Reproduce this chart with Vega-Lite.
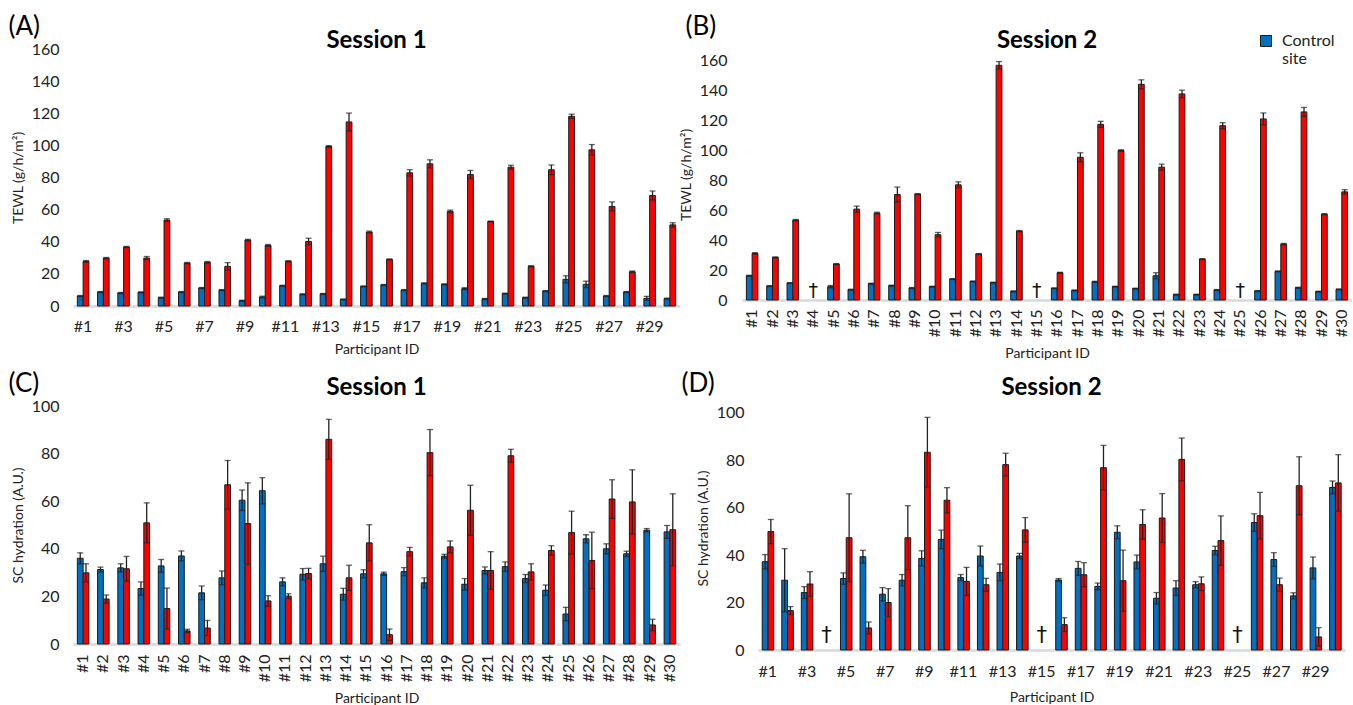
{
  "$schema": "https://vega.github.io/schema/vega-lite/v6.json",
  "padding": {"left": 8, "top": 13, "right": 0, "bottom": 0},
  "config": {
    "font": "Lato",
    "view": {"stroke": null},
    "axis": {"labelFont": "Lato", "titleFont": "Lato", "labelFontSize": 16, "titleFontSize": 14, "titleFontWeight": "normal", "labelColor": "#222", "titleColor": "#222", "ticks": false, "grid": false},
    "axisX": {"domainColor": "#d9d9d9", "domainWidth": 2.5},
    "axisY": {"domain": false, "labelPadding": 14, "titlePadding": 6, "labelOverlap": false},
    "title": {"font": "Lato", "fontSize": 24, "fontWeight": "bold", "color": "#000"}
  },
  "datasets": {
    "A": [
      {"id": "#1", "site": "Control site", "v": 6.2, "e": 0.3}, {"id": "#1", "site": "Test site", "v": 27.8, "e": 0.5},
      {"id": "#2", "site": "Control site", "v": 8.7, "e": 0.3}, {"id": "#2", "site": "Test site", "v": 29.8, "e": 0.4},
      {"id": "#3", "site": "Control site", "v": 8.1, "e": 0.3}, {"id": "#3", "site": "Test site", "v": 36.7, "e": 0.4},
      {"id": "#4", "site": "Control site", "v": 8.5, "e": 0.3}, {"id": "#4", "site": "Test site", "v": 29.8, "e": 1},
      {"id": "#5", "site": "Control site", "v": 5.2, "e": 0.3}, {"id": "#5", "site": "Test site", "v": 53.5, "e": 0.8},
      {"id": "#6", "site": "Control site", "v": 8.7, "e": 0.3}, {"id": "#6", "site": "Test site", "v": 26.7, "e": 0.4},
      {"id": "#7", "site": "Control site", "v": 11.2, "e": 0.3}, {"id": "#7", "site": "Test site", "v": 27.2, "e": 0.5},
      {"id": "#8", "site": "Control site", "v": 9.9, "e": 0.3}, {"id": "#8", "site": "Test site", "v": 24.7, "e": 2.3},
      {"id": "#9", "site": "Control site", "v": 3.3, "e": 0.3}, {"id": "#9", "site": "Test site", "v": 41, "e": 0.5},
      {"id": "#10", "site": "Control site", "v": 5.6, "e": 0.5}, {"id": "#10", "site": "Test site", "v": 37.7, "e": 0.6},
      {"id": "#11", "site": "Control site", "v": 12.6, "e": 0.3}, {"id": "#11", "site": "Test site", "v": 27.8, "e": 0.4},
      {"id": "#12", "site": "Control site", "v": 7.3, "e": 0.3}, {"id": "#12", "site": "Test site", "v": 40.2, "e": 2},
      {"id": "#13", "site": "Control site", "v": 7.5, "e": 0.3}, {"id": "#13", "site": "Test site", "v": 99.3, "e": 0.6},
      {"id": "#14", "site": "Control site", "v": 4.1, "e": 0.3}, {"id": "#14", "site": "Test site", "v": 114.6, "e": 5.5},
      {"id": "#15", "site": "Control site", "v": 12.2, "e": 0.3}, {"id": "#15", "site": "Test site", "v": 46, "e": 0.6},
      {"id": "#16", "site": "Control site", "v": 13.1, "e": 0.3}, {"id": "#16", "site": "Test site", "v": 29, "e": 0.3},
      {"id": "#17", "site": "Control site", "v": 9.9, "e": 0.3}, {"id": "#17", "site": "Test site", "v": 82.9, "e": 2},
      {"id": "#18", "site": "Control site", "v": 14.1, "e": 0.3}, {"id": "#18", "site": "Test site", "v": 88.5, "e": 2.5},
      {"id": "#19", "site": "Control site", "v": 13.5, "e": 0.3}, {"id": "#19", "site": "Test site", "v": 58.9, "e": 0.8},
      {"id": "#20", "site": "Control site", "v": 10.8, "e": 0.6}, {"id": "#20", "site": "Test site", "v": 81.9, "e": 2.5},
      {"id": "#21", "site": "Control site", "v": 4.4, "e": 0.3}, {"id": "#21", "site": "Test site", "v": 52.6, "e": 0.3},
      {"id": "#22", "site": "Control site", "v": 7.7, "e": 0.3}, {"id": "#22", "site": "Test site", "v": 86.4, "e": 1.2},
      {"id": "#23", "site": "Control site", "v": 5.2, "e": 0.3}, {"id": "#23", "site": "Test site", "v": 24.7, "e": 0.4},
      {"id": "#24", "site": "Control site", "v": 9.3, "e": 0.3}, {"id": "#24", "site": "Test site", "v": 84.8, "e": 3},
      {"id": "#25", "site": "Control site", "v": 16.6, "e": 2.2}, {"id": "#25", "site": "Test site", "v": 118.1, "e": 1.3},
      {"id": "#26", "site": "Control site", "v": 13.5, "e": 2}, {"id": "#26", "site": "Test site", "v": 97.2, "e": 3.3},
      {"id": "#27", "site": "Control site", "v": 6.2, "e": 0.3}, {"id": "#27", "site": "Test site", "v": 62, "e": 2.8},
      {"id": "#28", "site": "Control site", "v": 8.7, "e": 0.3}, {"id": "#28", "site": "Test site", "v": 21.3, "e": 0.5},
      {"id": "#29", "site": "Control site", "v": 4.8, "e": 1.2}, {"id": "#29", "site": "Test site", "v": 68.8, "e": 2.8},
      {"id": "#30", "site": "Control site", "v": 4.6, "e": 0.3}, {"id": "#30", "site": "Test site", "v": 50.5, "e": 1.3}
    ],
    "B": [
      {"id": "#1", "site": "Control site", "v": 16.2, "e": 0.3}, {"id": "#1", "site": "Test site", "v": 31.1, "e": 0.5},
      {"id": "#2", "site": "Control site", "v": 9.3, "e": 0.3}, {"id": "#2", "site": "Test site", "v": 28.4, "e": 0.4},
      {"id": "#3", "site": "Control site", "v": 11.3, "e": 0.3}, {"id": "#3", "site": "Test site", "v": 53.3, "e": 0.5},
      {"id": "#5", "site": "Control site", "v": 8.9, "e": 0.8}, {"id": "#5", "site": "Test site", "v": 24, "e": 0.3},
      {"id": "#6", "site": "Control site", "v": 6.9, "e": 0.3}, {"id": "#6", "site": "Test site", "v": 60.7, "e": 2},
      {"id": "#7", "site": "Control site", "v": 10.9, "e": 0.3}, {"id": "#7", "site": "Test site", "v": 58, "e": 0.6},
      {"id": "#8", "site": "Control site", "v": 9.6, "e": 0.3}, {"id": "#8", "site": "Test site", "v": 70.4, "e": 5},
      {"id": "#9", "site": "Control site", "v": 8, "e": 0.3}, {"id": "#9", "site": "Test site", "v": 70.7, "e": 0.3},
      {"id": "#10", "site": "Control site", "v": 8.9, "e": 0.3}, {"id": "#10", "site": "Test site", "v": 43.6, "e": 1.5},
      {"id": "#11", "site": "Control site", "v": 14, "e": 0.3}, {"id": "#11", "site": "Test site", "v": 76.9, "e": 2},
      {"id": "#12", "site": "Control site", "v": 12.4, "e": 0.3}, {"id": "#12", "site": "Test site", "v": 30.7, "e": 0.3},
      {"id": "#13", "site": "Control site", "v": 11.6, "e": 0.3}, {"id": "#13", "site": "Test site", "v": 156.7, "e": 2.5},
      {"id": "#14", "site": "Control site", "v": 5.8, "e": 0.3}, {"id": "#14", "site": "Test site", "v": 46, "e": 0.4},
      {"id": "#16", "site": "Control site", "v": 7.8, "e": 0.3}, {"id": "#16", "site": "Test site", "v": 18.2, "e": 0.3},
      {"id": "#17", "site": "Control site", "v": 6.4, "e": 0.3}, {"id": "#17", "site": "Test site", "v": 95.3, "e": 3},
      {"id": "#18", "site": "Control site", "v": 12.2, "e": 0.3}, {"id": "#18", "site": "Test site", "v": 117.3, "e": 2},
      {"id": "#19", "site": "Control site", "v": 8.9, "e": 0.3}, {"id": "#19", "site": "Test site", "v": 99.8, "e": 0.5},
      {"id": "#20", "site": "Control site", "v": 7.6, "e": 0.3}, {"id": "#20", "site": "Test site", "v": 144, "e": 3},
      {"id": "#21", "site": "Control site", "v": 16.2, "e": 2}, {"id": "#21", "site": "Test site", "v": 88.7, "e": 2},
      {"id": "#22", "site": "Control site", "v": 3.6, "e": 0.3}, {"id": "#22", "site": "Test site", "v": 137.6, "e": 2.5},
      {"id": "#23", "site": "Control site", "v": 3.6, "e": 0.3}, {"id": "#23", "site": "Test site", "v": 27.3, "e": 0.3},
      {"id": "#24", "site": "Control site", "v": 6.7, "e": 0.3}, {"id": "#24", "site": "Test site", "v": 116.4, "e": 2},
      {"id": "#26", "site": "Control site", "v": 6, "e": 0.3}, {"id": "#26", "site": "Test site", "v": 120.9, "e": 4},
      {"id": "#27", "site": "Control site", "v": 19.1, "e": 0.3}, {"id": "#27", "site": "Test site", "v": 37.3, "e": 0.5},
      {"id": "#28", "site": "Control site", "v": 8.2, "e": 0.3}, {"id": "#28", "site": "Test site", "v": 125.6, "e": 3},
      {"id": "#29", "site": "Control site", "v": 5.6, "e": 0.3}, {"id": "#29", "site": "Test site", "v": 57.3, "e": 0.3},
      {"id": "#30", "site": "Control site", "v": 7.1, "e": 0.3}, {"id": "#30", "site": "Test site", "v": 72.2, "e": 1.5}
    ],
    "C": [
      {"id": "#1", "site": "Control site", "v": 36.0, "e": 2.3}, {"id": "#1", "site": "Test site", "v": 29.9, "e": 3.8},
      {"id": "#2", "site": "Control site", "v": 31.3, "e": 1}, {"id": "#2", "site": "Test site", "v": 18.9, "e": 1.7},
      {"id": "#3", "site": "Control site", "v": 32, "e": 1.7}, {"id": "#3", "site": "Test site", "v": 31.6, "e": 5.2},
      {"id": "#4", "site": "Control site", "v": 23.3, "e": 2.8}, {"id": "#4", "site": "Test site", "v": 50.9, "e": 8.4},
      {"id": "#5", "site": "Control site", "v": 32.8, "e": 2.7}, {"id": "#5", "site": "Test site", "v": 14.9, "e": 8.6},
      {"id": "#6", "site": "Control site", "v": 37, "e": 2.1}, {"id": "#6", "site": "Test site", "v": 5.5, "e": 0.7},
      {"id": "#7", "site": "Control site", "v": 21.5, "e": 2.9}, {"id": "#7", "site": "Test site", "v": 6.7, "e": 3.2},
      {"id": "#8", "site": "Control site", "v": 27.8, "e": 2.9}, {"id": "#8", "site": "Test site", "v": 66.9, "e": 10.2},
      {"id": "#9", "site": "Control site", "v": 60.4, "e": 4.3}, {"id": "#9", "site": "Test site", "v": 50.6, "e": 17.1},
      {"id": "#10", "site": "Control site", "v": 64.4, "e": 5.5}, {"id": "#10", "site": "Test site", "v": 18.1, "e": 2.2},
      {"id": "#11", "site": "Control site", "v": 26.1, "e": 1.7}, {"id": "#11", "site": "Test site", "v": 20.1, "e": 1},
      {"id": "#12", "site": "Control site", "v": 29.3, "e": 2.4}, {"id": "#12", "site": "Test site", "v": 29.6, "e": 2.2},
      {"id": "#13", "site": "Control site", "v": 33.7, "e": 3.2}, {"id": "#13", "site": "Test site", "v": 86, "e": 8.4},
      {"id": "#14", "site": "Control site", "v": 20.9, "e": 2.5}, {"id": "#14", "site": "Test site", "v": 27.8, "e": 5.3},
      {"id": "#15", "site": "Control site", "v": 29.5, "e": 1.7}, {"id": "#15", "site": "Test site", "v": 42.5, "e": 7.6},
      {"id": "#16", "site": "Control site", "v": 29.5, "e": 0.7}, {"id": "#16", "site": "Test site", "v": 3.9, "e": 2.4},
      {"id": "#17", "site": "Control site", "v": 30.4, "e": 1.7}, {"id": "#17", "site": "Test site", "v": 38.8, "e": 1.8},
      {"id": "#18", "site": "Control site", "v": 25.7, "e": 2.1}, {"id": "#18", "site": "Test site", "v": 80.4, "e": 9.7},
      {"id": "#19", "site": "Control site", "v": 36.9, "e": 0.8}, {"id": "#19", "site": "Test site", "v": 40.8, "e": 2.5},
      {"id": "#20", "site": "Control site", "v": 25.1, "e": 2.4}, {"id": "#20", "site": "Test site", "v": 56.2, "e": 10.5},
      {"id": "#21", "site": "Control site", "v": 30.9, "e": 1.5}, {"id": "#21", "site": "Test site", "v": 30.9, "e": 7.9},
      {"id": "#22", "site": "Control site", "v": 32.5, "e": 2}, {"id": "#22", "site": "Test site", "v": 79.1, "e": 2.7},
      {"id": "#23", "site": "Control site", "v": 27.5, "e": 1.7}, {"id": "#23", "site": "Test site", "v": 30.3, "e": 3.4},
      {"id": "#24", "site": "Control site", "v": 22.6, "e": 2.2}, {"id": "#24", "site": "Test site", "v": 39.3, "e": 2},
      {"id": "#25", "site": "Control site", "v": 12.6, "e": 2.8}, {"id": "#25", "site": "Test site", "v": 46.8, "e": 9},
      {"id": "#26", "site": "Control site", "v": 44.2, "e": 1.7}, {"id": "#26", "site": "Test site", "v": 35.1, "e": 11.9},
      {"id": "#27", "site": "Control site", "v": 40, "e": 2.1}, {"id": "#27", "site": "Test site", "v": 60.9, "e": 8.1},
      {"id": "#28", "site": "Control site", "v": 37.9, "e": 1.1}, {"id": "#28", "site": "Test site", "v": 59.7, "e": 13.5},
      {"id": "#29", "site": "Control site", "v": 47.8, "e": 0.7}, {"id": "#29", "site": "Test site", "v": 8, "e": 2.4},
      {"id": "#30", "site": "Control site", "v": 47.1, "e": 2.7}, {"id": "#30", "site": "Test site", "v": 48, "e": 15.1}
    ],
    "D": [
      {"id": "#1", "site": "Control site", "v": 37.2, "e": 3}, {"id": "#1", "site": "Test site", "v": 49.9, "e": 5.1},
      {"id": "#2", "site": "Control site", "v": 29.4, "e": 13.3}, {"id": "#2", "site": "Test site", "v": 16.6, "e": 1.7},
      {"id": "#3", "site": "Control site", "v": 24.2, "e": 2.5}, {"id": "#3", "site": "Test site", "v": 27.8, "e": 5.2},
      {"id": "#5", "site": "Control site", "v": 30.1, "e": 2.4}, {"id": "#5", "site": "Test site", "v": 47.3, "e": 18.5},
      {"id": "#6", "site": "Control site", "v": 39.3, "e": 2.7}, {"id": "#6", "site": "Test site", "v": 9.3, "e": 2.5},
      {"id": "#7", "site": "Control site", "v": 23.5, "e": 2.8}, {"id": "#7", "site": "Test site", "v": 20, "e": 5.9},
      {"id": "#8", "site": "Control site", "v": 29.4, "e": 2.4}, {"id": "#8", "site": "Test site", "v": 47.3, "e": 13.5},
      {"id": "#9", "site": "Control site", "v": 38.6, "e": 3.2}, {"id": "#9", "site": "Test site", "v": 83.3, "e": 14.7},
      {"id": "#10", "site": "Control site", "v": 46.6, "e": 3.9}, {"id": "#10", "site": "Test site", "v": 63.1, "e": 5.3},
      {"id": "#11", "site": "Control site", "v": 30.5, "e": 1.3}, {"id": "#11", "site": "Test site", "v": 28.9, "e": 5.9},
      {"id": "#12", "site": "Control site", "v": 39.6, "e": 4.2}, {"id": "#12", "site": "Test site", "v": 27.5, "e": 2.7},
      {"id": "#13", "site": "Control site", "v": 32.7, "e": 3.5}, {"id": "#13", "site": "Test site", "v": 78.1, "e": 4.8},
      {"id": "#14", "site": "Control site", "v": 39.6, "e": 1.1}, {"id": "#14", "site": "Test site", "v": 50.6, "e": 5.2},
      {"id": "#16", "site": "Control site", "v": 29.5, "e": 0.6}, {"id": "#16", "site": "Test site", "v": 10.7, "e": 2.9},
      {"id": "#17", "site": "Control site", "v": 34.4, "e": 2.9}, {"id": "#17", "site": "Test site", "v": 31.7, "e": 5.1},
      {"id": "#18", "site": "Control site", "v": 26.8, "e": 1.4}, {"id": "#18", "site": "Test site", "v": 76.8, "e": 9.4},
      {"id": "#19", "site": "Control site", "v": 49.6, "e": 2.7}, {"id": "#19", "site": "Test site", "v": 29.2, "e": 12.9},
      {"id": "#20", "site": "Control site", "v": 37.1, "e": 2.9}, {"id": "#20", "site": "Test site", "v": 52.9, "e": 6.2},
      {"id": "#21", "site": "Control site", "v": 21.8, "e": 2.4}, {"id": "#21", "site": "Test site", "v": 55.6, "e": 10.3},
      {"id": "#22", "site": "Control site", "v": 26.1, "e": 3.1}, {"id": "#22", "site": "Test site", "v": 80.3, "e": 9},
      {"id": "#23", "site": "Control site", "v": 27.5, "e": 1.3}, {"id": "#23", "site": "Test site", "v": 27.9, "e": 2.9},
      {"id": "#24", "site": "Control site", "v": 41.9, "e": 1.8}, {"id": "#24", "site": "Test site", "v": 46.1, "e": 10.4},
      {"id": "#26", "site": "Control site", "v": 53.7, "e": 3.7}, {"id": "#26", "site": "Test site", "v": 56.6, "e": 9.8},
      {"id": "#27", "site": "Control site", "v": 38.1, "e": 2.9}, {"id": "#27", "site": "Test site", "v": 27.5, "e": 2.8},
      {"id": "#28", "site": "Control site", "v": 22.8, "e": 1.3}, {"id": "#28", "site": "Test site", "v": 69.2, "e": 12.2},
      {"id": "#29", "site": "Control site", "v": 34.6, "e": 4.6}, {"id": "#29", "site": "Test site", "v": 5.5, "e": 3.9},
      {"id": "#30", "site": "Control site", "v": 68.5, "e": 2.7}, {"id": "#30", "site": "Test site", "v": 70.4, "e": 11.9}
    ],
    "dag": [{"id": "#4", "t": "†"}, {"id": "#15", "t": "†"}, {"id": "#25", "t": "†"}]
  },
  "spacing": 9,
  "vconcat": [
    {
      "spacing": -1,
      "hconcat": [
        {
          "width": 607, "height": 257,
          "title": {"text": "Session 1", "frame": "group", "baseline": "alphabetic", "offset": -59},
          "data": {"name": "A"},
          "resolve": {"axis": {"x": "independent"}},
          "layer": [
            {"mark": {"type": "bar", "stroke": "#1a1a1a", "strokeWidth": 1},
             "encoding": {
               "x": {"field": "id", "type": "nominal", "title": "Participant ID",
                 "scale": {"domain": ["#1","#2","#3","#4","#5","#6","#7","#8","#9","#10","#11","#12","#13","#14","#15","#16","#17","#18","#19","#20","#21","#22","#23","#24","#25","#26","#27","#28","#29","#30"], "paddingInner": 0.43, "paddingOuter": 0.215},
                 "axis": {"labelAngle": 0, "labelPadding": 12, "titlePadding": 8, "labelExpr": "toNumber(slice(datum.value,1)) % 2 == 1 ? datum.value : ''"}},
               "xOffset": {"field": "site", "type": "nominal", "scale": {"domain": ["Control site", "Test site"]}},
               "y": {"field": "v", "type": "quantitative", "scale": {"domain": [0, 160]}, "axis": {"values": [0,20,40,60,80,100,120,140,160]}, "title": "TEWL (g/h/m²)"},
               "color": {"field": "site", "type": "nominal", "scale": {"domain": ["Control site", "Test site"], "range": ["#0070C0", "#FF0000"]}}
             }},
            {"mark": {"type": "errorbar", "ticks": {"size": 6}, "color": "#222", "thickness": 1.3},
             "encoding": {
               "x": {"field": "id", "type": "nominal",
                 "scale": {"domain": ["#1","#2","#3","#4","#5","#6","#7","#8","#9","#10","#11","#12","#13","#14","#15","#16","#17","#18","#19","#20","#21","#22","#23","#24","#25","#26","#27","#28","#29","#30"], "paddingInner": 0.43, "paddingOuter": 0.215},
                 "axis": {"orient": "top", "title": "(A)", "labels": false, "domain": false, "ticks": false, "titleX": -65, "titleY": -15, "titleAngle": 0, "titleAlign": "left", "titleBaseline": "alphabetic", "titleFontSize": 26, "titleColor": "#000"}},
               "xOffset": {"field": "site", "type": "nominal", "scale": {"domain": ["Control site", "Test site"]}},
               "y": {"field": "v", "type": "quantitative", "title": "TEWL (g/h/m²)", "axis": {"values": [0,20,40,60,80,100,120,140,160]}}, "yError": {"field": "e"}}}
          ]
        },
        {
          "width": 610, "height": 251,
          "title": {"text": "Session 2", "frame": "group", "baseline": "alphabetic", "offset": -59},
          "resolve": {"axis": {"x": "independent"}},
          "layer": [
            {"data": {"name": "B"},
             "mark": {"type": "bar", "stroke": "#1a1a1a", "strokeWidth": 1},
             "encoding": {
               "x": {"field": "id", "type": "nominal", "title": "Participant ID",
                 "scale": {"domain": ["#1","#2","#3","#4","#5","#6","#7","#8","#9","#10","#11","#12","#13","#14","#15","#16","#17","#18","#19","#20","#21","#22","#23","#24","#25","#26","#27","#28","#29","#30"], "paddingInner": 0.43, "paddingOuter": 0.215},
                 "axis": {"labelAngle": -90, "labelPadding": 9, "titlePadding": 10}},
               "xOffset": {"field": "site", "type": "nominal", "scale": {"domain": ["Control site", "Test site"]}},
               "y": {"field": "v", "type": "quantitative", "scale": {"domain": [0, 167.6], "nice": false}, "axis": {"values": [0,20,40,60,80,100,120,140,160], "labelPadding": 15}, "title": "TEWL (g/h/m²)"},
               "color": {"field": "site", "type": "nominal", "scale": {"domain": ["Control site", "Test site"], "range": ["#0070C0", "#FF0000"]},
                 "legend": {"values": ["Control site"], "orient": "none", "legendX": 1185, "legendY": -24, "title": null, "labelFont": "Lato", "labelFontSize": 16, "labelColor": "#222", "labelOffset": 8, "labelExpr": "split(datum.label, ' ')", "labelBaseline": "top", "symbolType": "M-1,0.45L1,0.45L1,2.45L-1,2.45Z", "symbolSize": 121, "symbolStrokeColor": "#222", "symbolStrokeWidth": 1, "padding": 0}}
             }},
            {"data": {"name": "B"},
             "mark": {"type": "errorbar", "ticks": {"size": 6}, "color": "#222", "thickness": 1.3},
             "encoding": {
               "x": {"field": "id", "type": "nominal",
                 "scale": {"domain": ["#1","#2","#3","#4","#5","#6","#7","#8","#9","#10","#11","#12","#13","#14","#15","#16","#17","#18","#19","#20","#21","#22","#23","#24","#25","#26","#27","#28","#29","#30"], "paddingInner": 0.43, "paddingOuter": 0.215},
                 "axis": {"orient": "top", "title": "(B)", "labels": false, "domain": false, "ticks": false, "titleX": -57, "titleY": -15, "titleAngle": 0, "titleAlign": "left", "titleBaseline": "alphabetic", "titleFontSize": 26, "titleColor": "#000"}},
               "xOffset": {"field": "site", "type": "nominal", "scale": {"domain": ["Control site", "Test site"]}},
               "y": {"field": "v", "type": "quantitative", "title": "TEWL (g/h/m²)", "axis": {"values": [0,20,40,60,80,100,120,140,160], "labelPadding": 15}}, "yError": {"field": "e"}}},
            {"data": {"name": "dag"},
             "mark": {"type": "text", "fontSize": 19, "font": "DejaVu Sans", "baseline": "middle", "color": "#111"},
             "encoding": {
               "x": {"field": "id", "type": "nominal", "axis": null,
                 "scale": {"domain": ["#1","#2","#3","#4","#5","#6","#7","#8","#9","#10","#11","#12","#13","#14","#15","#16","#17","#18","#19","#20","#21","#22","#23","#24","#25","#26","#27","#28","#29","#30"], "paddingInner": 0.43, "paddingOuter": 0.215}},
               "y": {"datum": 6, "type": "quantitative", "title": "TEWL (g/h/m²)", "axis": {"values": [0,20,40,60,80,100,120,140,160], "labelPadding": 15}}, "text": {"field": "t"}}}
          ]
        }
      ]
    },
    {
      "spacing": 1,
      "hconcat": [
        {
          "width": 607, "height": 238,
          "title": {"text": "Session 1", "frame": "group", "baseline": "alphabetic", "offset": -49},
          "data": {"name": "C"},
          "resolve": {"axis": {"x": "independent"}},
          "layer": [
            {"mark": {"type": "bar", "stroke": "#1a1a1a", "strokeWidth": 1},
             "encoding": {
               "x": {"field": "id", "type": "nominal", "title": "Participant ID",
                 "scale": {"domain": ["#1","#2","#3","#4","#5","#6","#7","#8","#9","#10","#11","#12","#13","#14","#15","#16","#17","#18","#19","#20","#21","#22","#23","#24","#25","#26","#27","#28","#29","#30"], "paddingInner": 0.43, "paddingOuter": 0.215},
                 "axis": {"labelAngle": -90, "labelPadding": 10, "titlePadding": 10}},
               "xOffset": {"field": "site", "type": "nominal", "scale": {"domain": ["Control site", "Test site"]}},
               "y": {"field": "v", "type": "quantitative", "scale": {"domain": [0, 100]}, "axis": {"values": [0,20,40,60,80,100]}, "title": "SC hydration (A.U.)"},
               "color": {"field": "site", "type": "nominal", "scale": {"domain": ["Control site", "Test site"], "range": ["#0070C0", "#FF0000"]}}
             }},
            {"mark": {"type": "errorbar", "ticks": {"size": 6}, "color": "#222", "thickness": 1.3},
             "encoding": {
               "x": {"field": "id", "type": "nominal",
                 "scale": {"domain": ["#1","#2","#3","#4","#5","#6","#7","#8","#9","#10","#11","#12","#13","#14","#15","#16","#17","#18","#19","#20","#21","#22","#23","#24","#25","#26","#27","#28","#29","#30"], "paddingInner": 0.43, "paddingOuter": 0.215},
                 "axis": {"orient": "top", "title": "(C)", "labels": false, "domain": false, "ticks": false, "titleX": -65, "titleY": -15, "titleAngle": 0, "titleAlign": "left", "titleBaseline": "alphabetic", "titleFontSize": 26, "titleColor": "#000"}},
               "xOffset": {"field": "site", "type": "nominal", "scale": {"domain": ["Control site", "Test site"]}},
               "y": {"field": "v", "type": "quantitative", "title": "SC hydration (A.U.)", "axis": {"values": [0,20,40,60,80,100]}}, "yError": {"field": "e"}}}
          ]
        },
        {
          "width": 587, "height": 244,
          "title": {"text": "Session 2", "frame": "group", "baseline": "alphabetic", "offset": -49},
          "resolve": {"axis": {"x": "independent"}},
          "layer": [
            {"data": {"name": "D"},
             "mark": {"type": "bar", "stroke": "#1a1a1a", "strokeWidth": 1},
             "encoding": {
               "x": {"field": "id", "type": "nominal", "title": "Participant ID",
                 "scale": {"domain": ["#1","#2","#3","#4","#5","#6","#7","#8","#9","#10","#11","#12","#13","#14","#15","#16","#17","#18","#19","#20","#21","#22","#23","#24","#25","#26","#27","#28","#29","#30"], "paddingInner": 0.43, "paddingOuter": 0.215},
                 "axis": {"labelAngle": 0, "labelPadding": 13, "titlePadding": 11, "labelExpr": "toNumber(slice(datum.value,1)) % 2 == 1 ? datum.value : ''"}},
               "xOffset": {"field": "site", "type": "nominal", "scale": {"domain": ["Control site", "Test site"]}},
               "y": {"field": "v", "type": "quantitative", "scale": {"domain": [0, 102.8], "nice": false}, "axis": {"values": [0,20,40,60,80,100]}, "title": "SC hydration (A.U.)"},
               "color": {"field": "site", "type": "nominal", "scale": {"domain": ["Control site", "Test site"], "range": ["#0070C0", "#FF0000"]}}
             }},
            {"data": {"name": "D"},
             "mark": {"type": "errorbar", "ticks": {"size": 6}, "color": "#222", "thickness": 1.3},
             "encoding": {
               "x": {"field": "id", "type": "nominal",
                 "scale": {"domain": ["#1","#2","#3","#4","#5","#6","#7","#8","#9","#10","#11","#12","#13","#14","#15","#16","#17","#18","#19","#20","#21","#22","#23","#24","#25","#26","#27","#28","#29","#30"], "paddingInner": 0.43, "paddingOuter": 0.215},
                 "axis": {"orient": "top", "title": "(D)", "labels": false, "domain": false, "ticks": false, "titleX": -77, "titleY": -15, "titleAngle": 0, "titleAlign": "left", "titleBaseline": "alphabetic", "titleFontSize": 26, "titleColor": "#000"}},
               "xOffset": {"field": "site", "type": "nominal", "scale": {"domain": ["Control site", "Test site"]}},
               "y": {"field": "v", "type": "quantitative", "title": "SC hydration (A.U.)", "axis": {"values": [0,20,40,60,80,100]}}, "yError": {"field": "e"}}},
            {"data": {"name": "dag"},
             "mark": {"type": "text", "fontSize": 21, "font": "DejaVu Sans", "baseline": "middle", "color": "#111"},
             "encoding": {
               "x": {"field": "id", "type": "nominal", "axis": null,
                 "scale": {"domain": ["#1","#2","#3","#4","#5","#6","#7","#8","#9","#10","#11","#12","#13","#14","#15","#16","#17","#18","#19","#20","#21","#22","#23","#24","#25","#26","#27","#28","#29","#30"], "paddingInner": 0.43, "paddingOuter": 0.215}},
               "y": {"datum": 6, "type": "quantitative", "title": "SC hydration (A.U.)", "axis": {"values": [0,20,40,60,80,100]}}, "text": {"field": "t"}}}
          ]
        }
      ]
    }
  ]
}
